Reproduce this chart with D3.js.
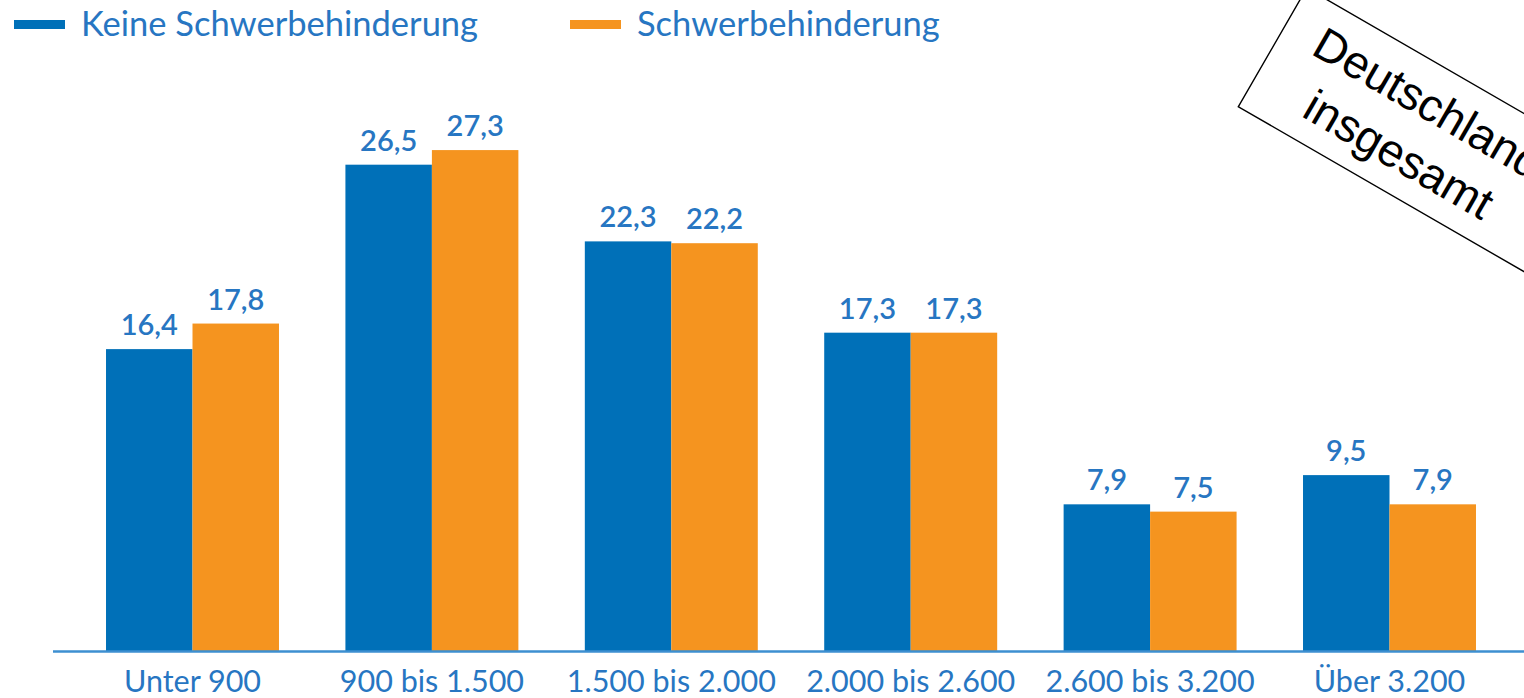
<!DOCTYPE html>
<html>
<head>
<meta charset="utf-8">
<script src="https://cdn.jsdelivr.net/npm/d3@7"></script>
<style>
  html, body { margin: 0; padding: 0; background: #fff; }
  svg { display: block; }
</style>
</head>
<body>
<svg id="chart" width="1524" height="698"></svg>
<script>
const categories = ["Unter 900", "900 bis 1.500", "1.500 bis 2.000", "2.000 bis 2.600", "2.600 bis 3.200", "Über 3.200"];
const seriesNames = ["Keine Schwerbehinderung", "Schwerbehinderung"];
const keineValues = [16.4, 26.5, 22.3, 17.3, 7.9, 9.5];
const schwerValues = [17.8, 27.3, 22.2, 17.3, 7.5, 7.9];
const seriesColors = ["#0070b8", "#f5941f"];
const boxLines = ["Deutschland", "insgesamt"];

const W = 1524, H = 698;
const svg = d3.select("#chart");
const textBlue = "#2776c2";
const font = "Lato, 'Noto Sans', sans-serif";

const locale = d3.formatLocale({decimal: ",", thousands: ".", grouping: [3], currency: ["", "€"]});
const fmt = locale.format(".1f");

const series = [keineValues, schwerValues];
const data = categories.map((c, i) => ({cat: c, vals: series.map((s, j) => ({key: seriesNames[j], v: s[i], j}))}));

const x0 = d3.scaleBand().domain(categories).range([72.8, 1509.2]).paddingInner(0.2775).paddingOuter(0.13875);
const x1 = d3.scaleBand().domain(seriesNames).range([0, x0.bandwidth()]).padding(0);
const y = d3.scaleLinear().domain([-0.16, 30]).range([651.5, 651.5 - 30.16 * 18.26]);

// bars
const g = svg.append("g");
const groups = g.selectAll("g.grp").data(data).join("g")
  .attr("class", "grp")
  .attr("transform", d => `translate(${x0(d.cat)},0)`);

groups.selectAll("rect").data(d => d.vals).join("rect")
  .attr("x", d => x1(d.key))
  .attr("width", x1.bandwidth())
  .attr("y", d => y(d.v))
  .attr("height", d => y(-0.16) - y(d.v))
  .attr("fill", d => seriesColors[d.j]);

groups.selectAll("text.val").data(d => d.vals).join("text")
  .attr("class", "val")
  .attr("x", d => x1(d.key) + x1.bandwidth() / 2)
  .attr("y", d => y(d.v) - 14)
  .attr("text-anchor", "middle")
  .attr("font-family", font)
  .attr("font-weight", 600)
  .attr("font-size", 29)
  .attr("fill", textBlue)
  .text(d => fmt(d.v));

// axis line
svg.append("line")
  .attr("x1", 53).attr("x2", W)
  .attr("y1", y(-0.16)).attr("y2", y(-0.16))
  .attr("stroke", "#3d8fd1").attr("stroke-width", 2.5);

// x axis labels
const ax = svg.append("g")
  .attr("transform", `translate(0,${y(-0.16)})`)
  .call(d3.axisBottom(x0).tickSize(0).tickPadding(0));
ax.select(".domain").remove();
ax.selectAll("text")
  .attr("y", 40)
  .attr("dy", null)
  .attr("font-family", font)
  .attr("font-size", 30.5)
  .attr("fill", textBlue);

// legend
const legend = svg.append("g");
const legendX = [14, 570];
seriesNames.forEach((name, j) => {
  const lg = legend.append("g").attr("transform", `translate(${legendX[j]},0)`);
  lg.append("rect").attr("x", 0).attr("y", 20).attr("width", 51).attr("height", 9).attr("fill", seriesColors[j]);
  lg.append("text").attr("x", 67).attr("y", 35.5)
    .attr("font-family", font).attr("font-size", 34.5).attr("fill", textBlue)
    .text(name);
});

// rotated box
const bw = 334, bh = 137;
const box = svg.append("g").attr("transform", "translate(1238.3,106.7) rotate(30)");
box.append("rect").attr("x", 0).attr("y", -bh).attr("width", bw).attr("height", bh)
  .attr("fill", "#fff").attr("stroke", "#000").attr("stroke-width", 1.4);
box.selectAll("text").data(boxLines).join("text")
  .attr("x", 163)
  .attr("y", (d, i) => -82 + i * 59)
  .attr("text-anchor", "middle")
  .attr("font-family", "'Liberation Sans', Arial, sans-serif")
  .attr("font-size", 46)
  .attr("fill", "#000")
  .text(d => d);
</script>
</body>
</html>
